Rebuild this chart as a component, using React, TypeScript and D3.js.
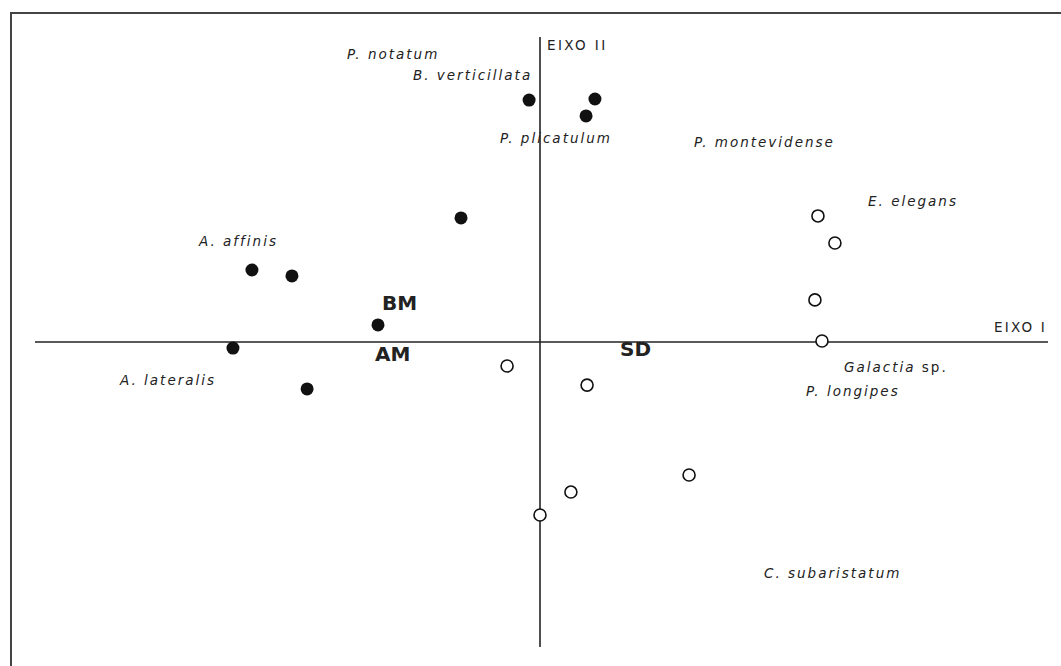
import React from 'react';
import * as d3 from 'd3';

// ordination scores (eixo I, eixo II)
const filledX = [-0.054, 0.272, 0.228, -0.391, -1.426, -1.228, -0.802, -1.52, -1.153];
const filledY = [1.19, 1.195, 1.112, 0.61, 0.354, 0.325, 0.084, -0.03, -0.231];
const openX = [1.376, 1.46, 1.361, 1.396, -0.163, 0.233, 0.738, 0.153, 0.0];
const openY = [0.62, 0.487, 0.207, 0.005, -0.118, -0.212, -0.654, -0.738, -0.851];

const species = [
  'P. notatum', 'B. verticillata', 'P. plicatulum', 'P. montevidense', 'E. elegans',
  'A. affinis', 'A. lateralis', 'Galactia', 'P. longipes', 'C. subaristatum',
];
const speciesX = [-0.955, -0.629, -0.198, 0.762, 1.624, -1.688, -2.079, 1.505, 1.317, 1.109];
const speciesY = [1.392, 1.289, 0.979, 0.959, 0.669, 0.472, -0.212, -0.148, -0.266, -1.161];

const groups = ['BM', 'AM', 'SD'];
const groupX = [-0.782, -0.817, 0.396];
const groupY = [0.157, -0.093, -0.069];

const W = 1061;
const H = 666;

const App = () => {
  const x = d3.scaleLinear().domain([-2.5, 2.5]).range([35, 1045]);
  const y = d3.scaleLinear().domain([-1.5, 1.5]).range([647, 37]);
  const font = 'DejaVu Sans, sans-serif';

  return (
    <svg width={W} height={H} style={{ position: 'absolute', left: 0, top: 0, background: '#fff' }}>
      {/* frame, open on the right and bottom */}
      <path d={`M11,${H} V13 H${W}`} fill="none" stroke="#444" strokeWidth={2} />

      {/* axes */}
      <line x1={x(-2.5)} x2={1048} y1={y(0)} y2={y(0)} stroke="#222" strokeWidth={1.6} />
      <line x1={x(0)} x2={x(0)} y1={y(1.5)} y2={y(-1.5)} stroke="#222" strokeWidth={1.6} />
      <text x={x(0) + 7} y={50} fontFamily={font} fontSize={13.5} letterSpacing={2.4} fill="#222">EIXO II</text>
      <text x={1047} y={y(0) - 10} textAnchor="end" fontFamily={font} fontSize={13.5} letterSpacing={2.2}
        fill="#222">EIXO I</text>

      {filledX.map((v, i) => (
        <circle key={'f' + i} cx={x(v)} cy={y(filledY[i])} r={6.5} fill="#111" />
      ))}
      {openX.map((v, i) => (
        <circle key={'o' + i} cx={x(v)} cy={y(openY[i])} r={6} fill="#fff" stroke="#111" strokeWidth={1.6} />
      ))}

      {species.map((s, i) => (
        <text key={s} x={x(speciesX[i])} y={y(speciesY[i])} fontFamily={font} fontSize={13.5}
          letterSpacing={2} fontStyle="italic" fill="#222">
          {s}
          {s === 'Galactia' ? <tspan fontStyle="normal"> sp.</tspan> : null}
        </text>
      ))}

      {groups.map((g, i) => (
        <text key={g} x={x(groupX[i])} y={y(groupY[i])} fontFamily={font} fontSize={20}
          fontWeight="bold" fill="#222">{g}</text>
      ))}
    </svg>
  );
};

export default App;
